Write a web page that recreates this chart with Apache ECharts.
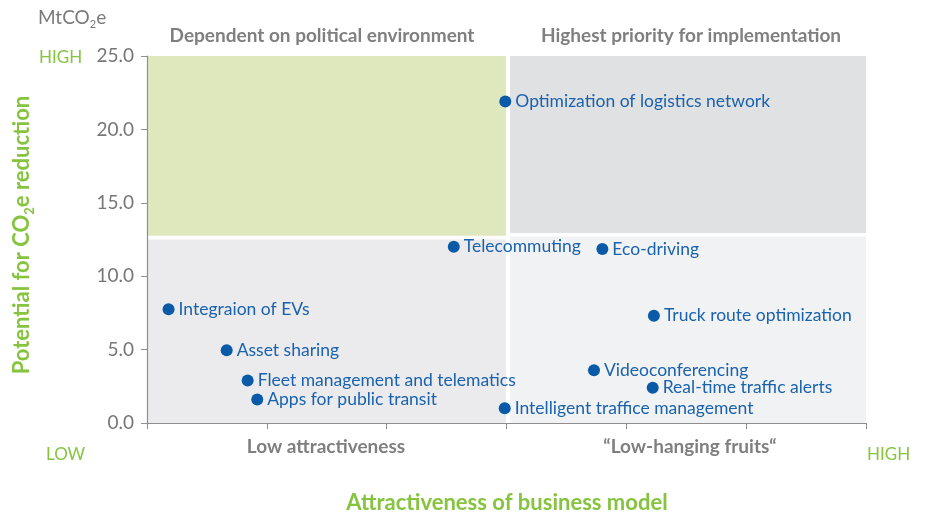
<!DOCTYPE html>
<html><head><meta charset="utf-8">
<script src="https://cdn.jsdelivr.net/npm/echarts@6/dist/echarts.min.js"></script>
<style>html,body{margin:0;padding:0;background:#fff}#c{width:929px;height:516px}</style>
</head><body><div id="c"></div>
<script>
const names = ["Optimization of logistics network","Telecommuting","Eco-driving","Truck route optimization","Integraion of EVs","Asset sharing","Fleet management and telematics","Apps for public transit","Videoconferencing","Real-time traffic alerts","Intelligent traffice management"];
const attractiveness = [29.9, 25.6, 38.0, 42.3, 1.8, 6.65, 8.4, 9.2, 37.3, 42.2, 29.85];
const co2Reduction = [21.9, 12.0, 11.85, 7.3, 7.75, 4.95, 2.9, 1.6, 3.6, 2.4, 1.0];
const yTicks = [0, 5, 10, 15, 20, 25];
const quadrantNames = ["Dependent on political environment","Highest priority for implementation","Low attractiveness","\u201cLow-hanging fruits\u201c"];
// quadrant bounds [x0, x1, y0, y1]
const quadTL = [0, 29.95, 12.75, 25];
const quadTR = [30.3, 60, 12.95, 25];
const quadBL = [0, 29.95, 0, 12.5];
const quadBR = [30.3, 60, 0, 12.7];

const chart = echarts.init(document.getElementById('c'));
const green = '#86c440';
const grayT = '#7f7f7f';
const font = 'Lato';
function area(q, color){ return [{xAxis:q[0], yAxis:q[2], itemStyle:{color:color}}, {xAxis:q[1], yAxis:q[3]}]; }
chart.setOption({
  animation:false,
  textStyle:{fontFamily:font},
  grid:{left:147, right:63, top:56, bottom:93, containLabel:false},
  xAxis:{type:'value', min:0, max:60, interval:10,
    axisLine:{show:true, onZero:false, lineStyle:{color:'#8e8e8e', width:1.2}},
    axisTick:{show:true, length:6, lineStyle:{color:'#8e8e8e'}},
    axisLabel:{show:false}, splitLine:{show:false}},
  yAxis:{type:'value', min:0, max:25, interval:5,
    axisLine:{show:true, lineStyle:{color:'#8e8e8e', width:1.2}},
    axisTick:{show:true, length:6, lineStyle:{color:'#8e8e8e'}},
    axisLabel:{color:'#777', fontSize:19, fontFamily:font, margin:13, formatter:v=>v.toFixed(1)},
    splitLine:{show:false}},
  series:[{
    type:'scatter',
    data: names.map((n,i)=>({name:n, value:[attractiveness[i], co2Reduction[i]]})),
    symbolSize:12,
    itemStyle:{color:'#0b5aa8', opacity:1},
    label:{show:true, position:'right', distance:4, formatter:'{b}', color:'#1a62ad', fontSize:17.5, fontFamily:font},
    markArea:{silent:true, z:-1, data:[
      area(quadTL,'#dfe8bd'), area(quadTR,'#e0e1e3'), area(quadBL,'#ebebed'), area(quadBR,'#f1f2f4')
    ]},
    z:5
  }],
  graphic:[
    {type:'text', left:38, top:8, style:{rich:{a:{fontSize:19,fill:'#7a7a7a',fontFamily:font},s:{fontSize:11,fill:'#7a7a7a',fontFamily:font,padding:[13,0,0,0]}}, text:'{a|MtCO}{s|2}{a|e}'}},
    {type:'text', left:39, top:49, style:{text:'HIGH', fill:green, fontSize:17, fontFamily:font, letterSpacing:2}},
    {type:'text', left:46, top:446, style:{text:'LOW', fill:green, fontSize:17, fontFamily:font}},
    {type:'text', left:867, top:446, style:{text:'HIGH', fill:green, fontSize:17, fontFamily:font, letterSpacing:1.5}},
    {type:'text', x:322, y:36, style:{text:quadrantNames[0], fill:grayT, fontSize:19, fontWeight:'bold', fontFamily:font, align:'center', verticalAlign:'middle'}},
    {type:'text', x:691, y:36, style:{text:quadrantNames[1], fill:grayT, fontSize:19, fontWeight:'bold', fontFamily:font, align:'center', verticalAlign:'middle'}},
    {type:'text', x:326, y:447, style:{text:quadrantNames[2], fill:grayT, fontSize:19, fontWeight:'bold', fontFamily:font, align:'center', verticalAlign:'middle'}},
    {type:'text', x:690, y:447, style:{text:quadrantNames[3], fill:grayT, fontSize:19, fontWeight:'bold', fontFamily:font, align:'center', verticalAlign:'middle'}},
    {type:'text', x:507, y:503, style:{text:'Attractiveness of business model', fill:green, fontSize:22, fontWeight:'bold', fontFamily:font, align:'center', verticalAlign:'middle'}},
    {type:'text', x:22, y:235, rotation:Math.PI/2, style:{rich:{a:{fontSize:22,fontWeight:'bold',fill:green,fontFamily:font},s:{fontSize:13,fontWeight:'bold',fill:green,fontFamily:font,padding:[16,0,0,0]}}, text:'{a|Potential for CO}{s|2}{a|e reduction}', align:'center', verticalAlign:'middle'}}
  ]
});
</script></body></html>
